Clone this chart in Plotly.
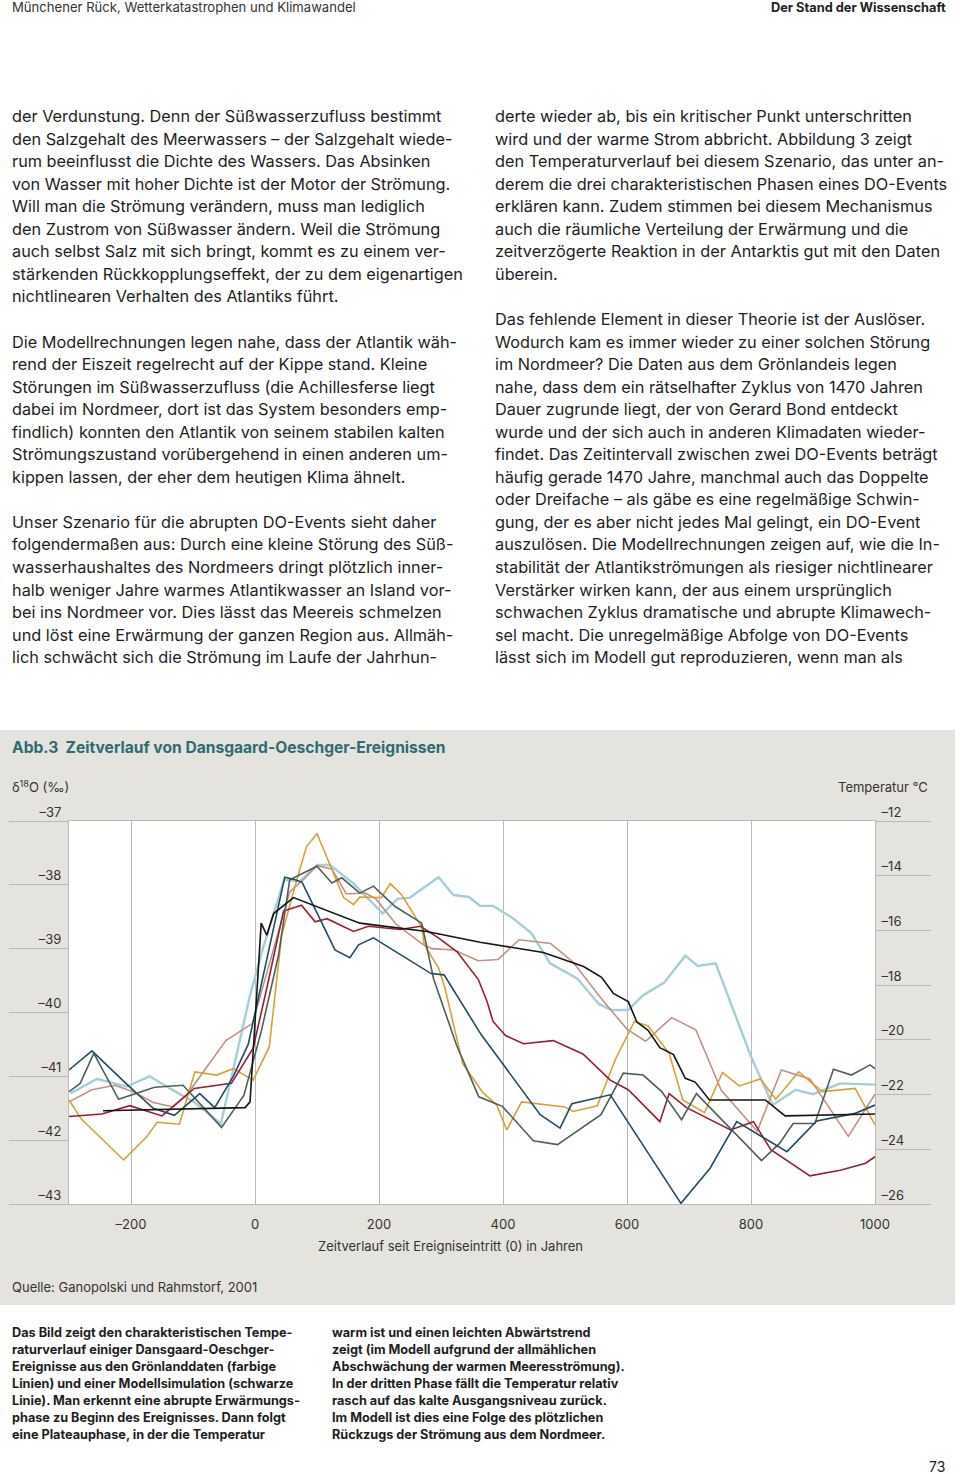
import plotly.graph_objects as go

W, H = 960, 1474

# ---------------- data (years since event onset, delta-18O permil) ----------------
model_years = [-245, -16, -8, 10, 19, 30, 62, 169, 277, 363, 465, 530, 559, 578, 602, 616, 634, 653,
               675, 694, 710, 733, 823, 855, 1000]
model_d18o = [-41.54, -41.49, -41.40, -38.60, -38.79, -38.45, -38.20, -38.60, -38.73, -38.90, -39.06,
              -39.28, -39.45, -39.70, -39.83, -40.15, -40.28, -40.55, -40.66, -41.03, -41.09, -41.37,
              -41.37, -41.62, -41.59]

lightblue_years = [-298, -255, -207, -170, -137, -99, -55, -8, 13, 47, 72, 100, 121, 159, 206, 230, 250,
                   296, 320, 345, 363, 384, 417, 446, 476, 520, 555, 575, 602, 626, 660, 694, 714, 743,
                   800, 835, 872, 900, 944, 1000]
lightblue_d18o = [-41.27, -41.04, -41.16, -41.00, -41.19, -41.40, -41.74, -39.73, -38.99, -37.92, -37.95,
                  -37.69, -37.69, -37.98, -38.45, -38.22, -38.20, -37.88, -38.16, -38.19, -38.33, -38.33,
                  -38.53, -38.76, -39.23, -39.47, -39.87, -39.96, -39.96, -39.73, -39.53, -39.11, -39.27,
                  -39.23, -40.69, -41.45, -41.21, -41.28, -41.11, -41.13]

navy_years = [-300, -263, -204, -164, -130, -89, -65, -35, -11, 48, 65, 76, 129, 153, 167, 191, 284, 305,
              365, 460, 492, 511, 573, 687, 734, 777, 858, 906, 968, 1000]
navy_d18o = [-40.90, -40.60, -41.15, -41.50, -41.61, -41.27, -41.49, -41.00, -40.50, -37.88, -37.92,
             -37.96, -39.02, -39.14, -38.94, -38.83, -39.39, -39.41, -40.35, -41.60, -41.81, -41.43,
             -41.29, -42.99, -42.44, -41.71, -42.18, -41.70, -41.58, -41.45]

green_years = [-300, -282, -260, -220, -162, -116, -54, -18, 10, 38, 56, 100, 124, 140, 169, 191, 226,
               269, 288, 325, 361, 399, 449, 488, 558, 594, 626, 656, 688, 712, 817, 846, 868, 903, 933,
               962, 992, 1000]
green_d18o = [-41.24, -41.11, -40.64, -41.36, -41.17, -41.14, -41.80, -41.30, -40.30, -39.10, -37.92,
              -37.71, -37.97, -37.89, -38.13, -38.02, -38.34, -38.60, -39.47, -40.51, -41.32, -41.47,
              -42.01, -42.07, -41.60, -40.95, -40.98, -41.24, -41.68, -41.27, -42.32, -42.05, -41.74,
              -41.74, -40.89, -40.98, -40.82, -40.88]

red_years = [-300, -247, -202, -150, -98, -38, -3, 19, 46, 75, 97, 116, 159, 183, 234, 267, 297, 326,
             360, 374, 384, 404, 433, 481, 529, 573, 602, 653, 668, 696, 767, 804, 832, 895, 944, 985, 1000]
red_d18o = [-41.63, -41.59, -41.46, -41.62, -41.19, -41.11, -40.56, -39.62, -38.41, -38.32, -38.58,
            -38.53, -38.73, -38.65, -38.70, -38.65, -38.84, -39.05, -39.48, -39.82, -40.14, -40.36,
            -40.49, -40.44, -40.65, -41.06, -41.21, -41.71, -41.27, -41.49, -41.84, -41.71, -42.15,
            -42.56, -42.47, -42.36, -42.26]

gold_years = [-300, -280, -212, -174, -158, -122, -97, -62, -35, -3, 23, 43, 62, 83, 100, 121, 143, 159,
              169, 204, 218, 236, 269, 273, 296, 306, 335, 367, 390, 406, 430, 500, 513, 552, 581, 612,
              634, 668, 690, 725, 754, 781, 815, 840, 877, 915, 968, 1000]
gold_d18o = [-41.37, -41.67, -42.31, -41.94, -41.72, -41.75, -40.93, -40.98, -40.88, -41.06, -40.54,
             -38.79, -38.11, -37.40, -37.20, -37.69, -38.20, -38.31, -38.19, -38.20, -37.98, -38.15,
             -38.66, -38.94, -39.30, -39.60, -40.80, -41.25, -41.45, -41.84, -41.40, -41.48, -41.55,
             -41.46, -40.74, -40.14, -40.21, -40.64, -41.37, -41.57, -40.94, -41.15, -41.04, -41.36,
             -40.93, -41.24, -41.19, -41.76]

pink_years = [-300, -263, -226, -196, -164, -132, -110, -78, -47, -4, 56, 78, 100, 124, 147, 178, 195,
              228, 269, 285, 321, 360, 392, 426, 477, 514, 560, 600, 630, 672, 711, 752, 810, 849, 895,
              957, 1000]
pink_d18o = [-41.40, -41.21, -41.14, -41.24, -41.41, -41.48, -41.29, -40.85, -40.44, -40.17, -38.11,
             -37.92, -37.70, -37.75, -38.14, -38.13, -38.22, -38.62, -38.92, -39.00, -39.02, -39.19,
             -39.17, -38.86, -38.92, -39.22, -39.80, -40.26, -40.45, -40.08, -40.27, -41.22, -41.86,
             -40.90, -41.04, -41.94, -41.28]

d18o_ticks = [-43, -42, -41, -40, -39, -38, -37]
temp_ticks = [-26, -24, -22, -20, -18, -16, -14, -12]
year_ticks = [-200, 0, 200, 400, 600, 800, 1000]

# ---------------- page text ----------------
header_left = "Münchener Rück, Wetterkatastrophen und Klimawandel"
header_right = "Der Stand der Wissenschaft"

body_left = [
    "der Verdunstung. Denn der Süßwasserzufluss bestimmt",
    "den Salzgehalt des Meerwassers – der Salzgehalt wiede-",
    "rum beeinflusst die Dichte des Wassers. Das Absinken",
    "von Wasser mit hoher Dichte ist der Motor der Strömung.",
    "Will man die Strömung verändern, muss man lediglich",
    "den Zustrom von Süßwasser ändern. Weil die Strömung",
    "auch selbst Salz mit sich bringt, kommt es zu einem ver-",
    "stärkenden Rückkopplungseffekt, der zu dem eigenartigen",
    "nichtlinearen Verhalten des Atlantiks führt.",
    "",
    "Die Modellrechnungen legen nahe, dass der Atlantik wäh-",
    "rend der Eiszeit regelrecht auf der Kippe stand. Kleine",
    "Störungen im Süßwasserzufluss (die Achillesferse liegt",
    "dabei im Nordmeer, dort ist das System besonders emp-",
    "findlich) konnten den Atlantik von seinem stabilen kalten",
    "Strömungszustand vorübergehend in einen anderen um-",
    "kippen lassen, der eher dem heutigen Klima ähnelt.",
    "",
    "Unser Szenario für die abrupten DO-Events sieht daher",
    "folgendermaßen aus: Durch eine kleine Störung des Süß-",
    "wasserhaushaltes des Nordmeers dringt plötzlich inner-",
    "halb weniger Jahre warmes Atlantikwasser an Island vor-",
    "bei ins Nordmeer vor. Dies lässt das Meereis schmelzen",
    "und löst eine Erwärmung der ganzen Region aus. Allmäh-",
    "lich schwächt sich die Strömung im Laufe der Jahrhun-",
]
body_right = [
    "derte wieder ab, bis ein kritischer Punkt unterschritten",
    "wird und der warme Strom abbricht. Abbildung 3 zeigt",
    "den Temperaturverlauf bei diesem Szenario, das unter an-",
    "derem die drei charakteristischen Phasen eines DO-Events",
    "erklären kann. Zudem stimmen bei diesem Mechanismus",
    "auch die räumliche Verteilung der Erwärmung und die",
    "zeitverzögerte Reaktion in der Antarktis gut mit den Daten",
    "überein.",
    "",
    "Das fehlende Element in dieser Theorie ist der Auslöser.",
    "Wodurch kam es immer wieder zu einer solchen Störung",
    "im Nordmeer? Die Daten aus dem Grönlandeis legen",
    "nahe, dass dem ein rätselhafter Zyklus von 1470 Jahren",
    "Dauer zugrunde liegt, der von Gerard Bond entdeckt",
    "wurde und der sich auch in anderen Klimadaten wieder-",
    "findet. Das Zeitintervall zwischen zwei DO-Events beträgt",
    "häufig gerade 1470 Jahre, manchmal auch das Doppelte",
    "oder Dreifache – als gäbe es eine regelmäßige Schwin-",
    "gung, der es aber nicht jedes Mal gelingt, ein DO-Event",
    "auszulösen. Die Modellrechnungen zeigen auf, wie die In-",
    "stabilität der Atlantikströmungen als riesiger nichtlinearer",
    "Verstärker wirken kann, der aus einem ursprünglich",
    "schwachen Zyklus dramatische und abrupte Klimawech-",
    "sel macht. Die unregelmäßige Abfolge von DO-Events",
    "lässt sich im Modell gut reproduzieren, wenn man als",
]
caption_left = [
    "Das Bild zeigt den charakteristischen Tempe-",
    "raturverlauf einiger Dansgaard-Oeschger-",
    "Ereignisse aus den Grönlanddaten (farbige",
    "Linien) und einer Modellsimulation (schwarze",
    "Linie). Man erkennt eine abrupte Erwärmungs-",
    "phase zu Beginn des Ereignisses. Dann folgt",
    "eine Plateauphase, in der die Temperatur",
]
caption_right = [
    "warm ist und einen leichten Abwärtstrend",
    "zeigt (im Modell aufgrund der allmählichen",
    "Abschwächung der warmen Meeresströmung).",
    "In der dritten Phase fällt die Temperatur relativ",
    "rasch auf das kalte Ausgangsniveau zurück.",
    "Im Modell ist dies eine Folge des plötzlichen",
    "Rückzugs der Strömung aus dem Nordmeer.",
]
chart_title = "Abb.3  Zeitverlauf von Dansgaard-Oeschger-Ereignissen"
left_axis_title = "δ<sup>18</sup>O (‰)"
right_axis_title = "Temperatur °C"
x_axis_title = "Zeitverlauf seit Ereigniseintritt (0) in Jahren"
source_text = "Quelle: Ganopolski und Rahmstorf, 2001"
page_number = "73"

# ---------------- styling ----------------
FONT = "Inter, Liberation Sans, Arial, sans-serif"
PANEL = "#e4e3dd"
GRID = "#b9b9b6"
TEXT = "#1e1e1e"
TEAL = "#2e6b72"


def py(p):
    return 1 - p / H


def pxp(p):
    return p / W


series = [
    (lightblue_years, lightblue_d18o, "#a5cfd8", 2.4),
    (pink_years, pink_d18o, "#c49082", 1.6),
    (gold_years, gold_d18o, "#d6a136", 1.6),
    (red_years, red_d18o, "#9c1c30", 1.6),
    (green_years, green_d18o, "#4d6157", 1.6),
    (navy_years, navy_d18o, "#1f4d66", 1.6),
    (model_years, model_d18o, "#151515", 1.6),
]

fig = go.Figure()
for xs, ys, col, w in series:
    fig.add_trace(go.Scatter(x=xs, y=ys, mode="lines", line=dict(color=col, width=w),
                             showlegend=False, hoverinfo="skip"))
# empty trace so that the temperature axis (right) is drawn
fig.add_trace(go.Scatter(x=[], y=[], yaxis="y2", mode="lines", showlegend=False, hoverinfo="skip"))

x0p, x1p = 69, 875
y0p, y1p = 1204, 821

ann = []


def add_text(text, x, y, size, anchor="left", bold=False, color=TEXT):
    t = f"<b>{text}</b>" if bold else text
    ann.append(dict(text=t, x=pxp(x), y=py(y), xref="paper", yref="paper", xanchor=anchor,
                    yanchor="middle", showarrow=False, font=dict(family=FONT, size=size, color=color)))


add_text(header_left, 10, 7, 13.1, color="#333333")
add_text(header_right, 948, 7, 12.8, anchor="right", bold=True, color="#222222")

for k, line in enumerate(body_left):
    if line:
        add_text(line, 10, 116 + 22.55 * k, 16.3)
for k, line in enumerate(body_right):
    if line:
        add_text(line, 493, 116 + 22.55 * k, 16.3)

add_text(chart_title, 10, 747, 15.6, bold=True, color=TEAL)
add_text(left_axis_title, 10, 786, 13, color="#333333")
add_text(right_axis_title, 930, 787, 13, anchor="right", color="#333333")
add_text(x_axis_title, 450, 1246, 13, anchor="center", color="#333333")
add_text(source_text, 10, 1287, 13, color="#333333")

for k, line in enumerate(caption_left):
    add_text(line, 10, 1332 + 17.1 * k, 12.7, bold=True)
for k, line in enumerate(caption_right):
    add_text(line, 330, 1332 + 17.1 * k, 12.7, bold=True)

add_text(page_number, 947, 1466, 14, anchor="right")

shapes = [
    dict(type="rect", xref="paper", yref="paper", x0=0, x1=pxp(955), y0=py(1305), y1=py(730),
         fillcolor=PANEL, line_width=0, layer="below"),
    dict(type="rect", xref="x", yref="y", x0=-300, x1=1000, y0=-43, y1=-37,
         fillcolor="white", line_width=0, layer="below"),
]

tickfont = dict(family=FONT, size=13, color="#333333")

fig.update_layout(
    width=W, height=H, autosize=False,
    margin=dict(l=0, r=0, t=0, b=0, pad=0, autoexpand=False),
    paper_bgcolor="white", plot_bgcolor="white",
    showlegend=False,
    annotations=ann, shapes=shapes,
    xaxis=dict(domain=[pxp(x0p), pxp(x1p)], range=[-300, 1000], tickvals=year_ticks,
               ticktext=[("–" + str(abs(v))) if v < 0 else str(v) for v in year_ticks],
               showgrid=True, gridcolor=GRID, gridwidth=1, zeroline=False, automargin=False,
               showline=True, linecolor=GRID, linewidth=1, mirror=True,
               ticks="", tickfont=tickfont, ticklabelstandoff=8, fixedrange=True),
    yaxis=dict(domain=[py(y0p), py(y1p)], range=[-43, -37], tickvals=d18o_ticks,
               ticktext=["–" + str(abs(v)) for v in d18o_ticks], automargin=False,
               showgrid=False, zeroline=False, showline=True, linecolor=GRID, linewidth=1, mirror=True,
               ticks="outside", ticklen=59, tickcolor=GRID, tickwidth=1,
               tickfont=tickfont, ticklabelstandoff=-55, ticklabelshift=-9, fixedrange=True),
    yaxis2=dict(overlaying="y", side="right", anchor="x", range=[-26, -12], tickvals=temp_ticks,
                ticktext=["–" + str(abs(v)) for v in temp_ticks], automargin=False,
                showgrid=False, zeroline=False, showline=False,
                ticks="outside", ticklen=55, tickcolor=GRID, tickwidth=1,
                tickfont=tickfont, ticklabelstandoff=-52, ticklabelshift=-9, fixedrange=True),
)

fig.write_html("out.html", config={"displayModeBar": False},
               post_script="document.documentElement.style.margin='0';document.body.style.margin='0';")
